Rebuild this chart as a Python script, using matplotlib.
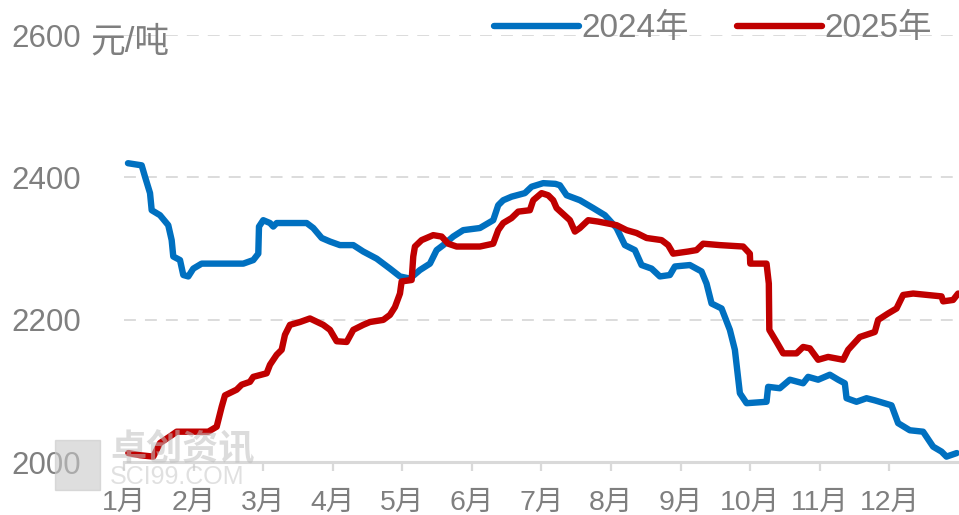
import matplotlib
matplotlib.use("Agg")
import matplotlib.pyplot as plt
from matplotlib.patches import Rectangle

plt.rcParams['font.family'] = ['Liberation Sans', 'Noto Sans CJK SC', 'DejaVu Sans']

# month position (0 = 1月 tick, 12 = year end) and price, 元/吨
x_2024 = [0.057, 0.254, 0.302, 0.374, 0.398, 0.517, 0.636, 0.685, 0.708, 0.805,
          0.852, 0.924, 0.996, 1.116, 1.714, 1.858, 1.930, 1.940, 2.001, 2.098,
          2.145, 2.194, 2.625, 2.720, 2.841, 2.960, 3.103, 3.295, 3.438, 3.631,
          3.822, 3.966, 4.109, 4.253, 4.397, 4.493, 4.588, 4.731, 4.875, 5.115,
          5.306, 5.378, 5.450, 5.570, 5.761, 5.858, 6.024, 6.200, 6.264, 6.361,
          6.552, 6.743, 6.911, 7.079, 7.198, 7.342, 7.438, 7.582, 7.701, 7.845,
          7.917, 8.132, 8.300, 8.372, 8.444, 8.588, 8.707, 8.779, 8.851, 8.947,
          9.234, 9.257, 9.425, 9.569, 9.760, 9.832, 9.976, 10.144, 10.263, 10.359,
          10.384, 10.527, 10.671, 10.790, 11.030, 11.125, 11.293, 11.484, 11.628, 11.749,
          11.820, 11.968]
y_2024 = [2420, 2417, 2401, 2378, 2354, 2347, 2333, 2312, 2289, 2284,
          2263, 2261, 2272, 2279, 2279, 2284, 2293, 2331, 2340, 2336,
          2331, 2336, 2336, 2329, 2315, 2310, 2305, 2305, 2296, 2286,
          2272, 2261, 2258, 2270, 2279, 2298, 2305, 2317, 2326, 2329,
          2340, 2361, 2368, 2373, 2378, 2387, 2392, 2391, 2389, 2375,
          2368, 2357, 2347, 2329, 2305, 2298, 2277, 2272, 2261, 2263,
          2275, 2277, 2268, 2251, 2223, 2216, 2186, 2158, 2097, 2083,
          2085, 2106, 2104, 2116, 2111, 2120, 2116, 2123, 2116, 2111,
          2090, 2085, 2090, 2087, 2080, 2055, 2045, 2043, 2022, 2015,
          2008, 2013]

x_2025 = [0.062, 0.230, 0.421, 0.517, 0.685, 0.757, 1.211, 1.332, 1.404, 1.451,
          1.619, 1.691, 1.810, 1.858, 2.050, 2.098, 2.194, 2.266, 2.313, 2.385,
          2.529, 2.672, 2.864, 2.960, 3.056, 3.200, 3.295, 3.438, 3.534, 3.726,
          3.822, 3.894, 3.966, 3.990, 4.134, 4.157, 4.181, 4.277, 4.444, 4.565,
          4.659, 4.780, 5.115, 5.306, 5.378, 5.450, 5.570, 5.665, 5.833, 5.881,
          6.001, 6.096, 6.168, 6.217, 6.408, 6.480, 6.552, 6.671, 6.815, 7.079,
          7.223, 7.366, 7.510, 7.726, 7.820, 7.892, 8.108, 8.228, 8.323, 8.563,
          8.898, 8.994, 9.000, 9.234, 9.267, 9.274, 9.378, 9.473, 9.665, 9.760,
          9.856, 9.976, 10.119, 10.335, 10.407, 10.575, 10.790, 10.838, 10.981, 11.102,
          11.197, 11.341, 11.749, 11.772, 11.915, 11.987]
y_2025 = [2013, 2010, 2008, 2027, 2038, 2043, 2043, 2050, 2078, 2094,
          2102, 2109, 2113, 2120, 2125, 2137, 2151, 2158, 2179, 2193,
          2197, 2202, 2193, 2186, 2170, 2169, 2186, 2193, 2197, 2200,
          2207, 2218, 2237, 2254, 2256, 2289, 2303, 2312, 2319, 2317,
          2307, 2303, 2303, 2307, 2326, 2336, 2343, 2352, 2354, 2368,
          2378, 2375, 2368, 2357, 2340, 2324, 2329, 2340, 2338, 2333,
          2326, 2322, 2315, 2312, 2305, 2293, 2296, 2298, 2307, 2305,
          2303, 2293, 2279, 2279, 2251, 2186, 2169, 2153, 2153, 2162,
          2160, 2144, 2148, 2144, 2158, 2176, 2183, 2200, 2209, 2216,
          2235, 2237, 2233, 2226, 2228, 2237]

months = [f"{i}月" for i in range(1, 13)]
y_ticks = [2000, 2200, 2400, 2600]

grey_text = '#7f7f7f'
grid_col = '#d9d9d9'

fig = plt.figure(figsize=(9.59, 5.15), dpi=100)
ax = fig.add_axes([0.1293, 0.1023, 0.8707, 0.8297])

ax.plot(x_2024, y_2024, color='#0070C0', lw=4.6, label='2024年',
        solid_joinstyle='round', solid_capstyle='round', clip_on=False, zorder=3)
ax.plot(x_2025, y_2025, color='#C00000', lw=4.6, label='2025年',
        solid_joinstyle='round', solid_capstyle='round', clip_on=False, zorder=4)

ax.set_xlim(0, 12)
ax.set_ylim(2000, 2600)

for v in y_ticks[1:]:
    ax.axhline(v, color=grid_col, lw=1.3, linestyle=(0, (6.6, 5.0)), zorder=1)

for s in ['top', 'right', 'left']:
    ax.spines[s].set_visible(False)
ax.spines['bottom'].set_color(grid_col)
ax.spines['bottom'].set_linewidth(2.2)

ax.set_xticks(range(12))
ax.set_xticklabels(months)
ax.set_yticks(y_ticks)
ax.tick_params(axis='x', colors=grid_col, length=6.5, width=1.6, pad=13,
               labelsize=20.5, labelcolor=grey_text)
ax.tick_params(axis='y', length=0, pad=31, labelsize=22.5, labelcolor=grey_text)

fig.text(90 / 959, 1 - 42 / 515, '元/吨', fontsize=25, color=grey_text,
         ha='left', va='center')

leg = fig.legend(loc='center', bbox_to_anchor=(0.7435, 0.944), ncol=2,
                 frameon=False, fontsize=24, handlelength=2.55, handletextpad=0.08,
                 columnspacing=1.45, borderaxespad=0)
for t in leg.get_texts():
    t.set_color(grey_text)

# watermark
fig.patches.append(Rectangle((55 / 959, 1 - 490 / 515), 45 / 959, 50 / 515,
                             transform=fig.transFigure, color='#c8c8c8', alpha=0.6,
                             zorder=0))
fig.text(110 / 959, 1 - 451 / 515, '卓创资讯', fontsize=26, color='#c0c0c0',
         alpha=0.55, ha='left', va='center', fontweight='bold')
fig.text(110 / 959, 1 - 477 / 515, 'SCI99.COM', fontsize=18, color='#c8c8c8',
         alpha=0.55, ha='left', va='center')

fig.savefig('out.png', dpi=100)
